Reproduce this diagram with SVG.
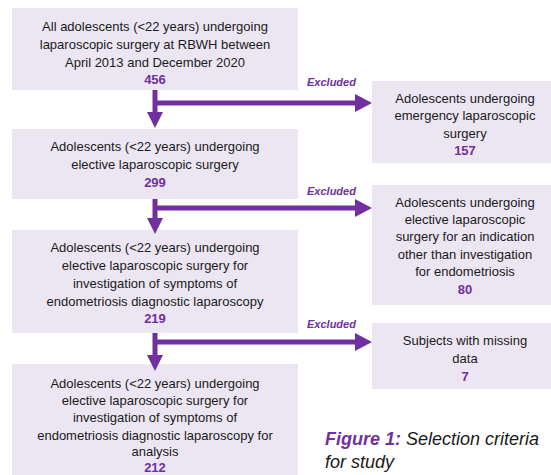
<svg xmlns="http://www.w3.org/2000/svg" width="551" height="475" viewBox="0 0 551 475">
<style>
  .box { fill: #ECE6F2; }
  .t { font-family: "Liberation Sans", Arial, sans-serif; font-size: 13px; fill: #1a1a1a; text-anchor: middle; }
  .n { font-family: "Liberation Sans", Arial, sans-serif; font-size: 13px; font-weight: bold; fill: #7030A0; text-anchor: middle; }
  .ex { font-family: "Liberation Sans", Arial, sans-serif; font-size: 11px; font-weight: bold; font-style: italic; fill: #7030A0; }
  .line { stroke: #7030A0; stroke-width: 5; fill: none; }
  .head { fill: #7030A0; }
  .cap { font-family: "Liberation Sans", Arial, sans-serif; font-size: 18px; font-style: italic; fill: #1a1a1a; }
</style>
<rect width="551" height="475" fill="#fff"/>

<g id="node-all">
  <rect class="box" x="12" y="8" width="286" height="82"/>
  <text class="t" x="155" y="31">All adolescents (&lt;22 years) undergoing</text>
  <text class="t" x="155" y="49">laparoscopic surgery at RBWH between</text>
  <text class="t" x="155" y="67">April 2013 and December 2020</text>
  <text class="n" x="155" y="84">456</text>
</g>

<g id="node-elective">
  <rect class="box" x="12" y="129" width="286" height="70"/>
  <text class="t" x="155" y="151">Adolescents (&lt;22 years) undergoing</text>
  <text class="t" x="155" y="169">elective laparoscopic surgery</text>
  <text class="n" x="155" y="187">299</text>
</g>

<g id="node-endo">
  <rect class="box" x="12" y="230" width="286" height="103"/>
  <text class="t" x="155" y="252">Adolescents (&lt;22 years) undergoing</text>
  <text class="t" x="155" y="270">elective laparoscopic surgery for</text>
  <text class="t" x="155" y="288">investigation of symptoms of</text>
  <text class="t" x="155" y="306">endometriosis diagnostic laparoscopy</text>
  <text class="n" x="155" y="323">219</text>
</g>

<g id="node-analysis">
  <rect class="box" x="12" y="364" width="286" height="115"/>
  <text class="t" x="155" y="388">Adolescents (&lt;22 years) undergoing</text>
  <text class="t" x="155" y="405">elective laparoscopic surgery for</text>
  <text class="t" x="155" y="422">investigation of symptoms of</text>
  <text class="t" x="155" y="440">endometriosis diagnostic laparoscopy for</text>
  <text class="t" x="155" y="456">analysis</text>
  <text class="n" x="155" y="472">212</text>
</g>

<g id="node-emergency">
  <rect class="box" x="372" y="81" width="185" height="82"/>
  <text class="t" x="465" y="103">Adolescents undergoing</text>
  <text class="t" x="465" y="120">emergency laparoscopic</text>
  <text class="t" x="465" y="138">surgery</text>
  <text class="n" x="465" y="155">157</text>
</g>

<g id="node-other">
  <rect class="box" x="372" y="185" width="185" height="120"/>
  <text class="t" x="465" y="207">Adolescents undergoing</text>
  <text class="t" x="465" y="224">elective laparoscopic</text>
  <text class="t" x="465" y="241">surgery for an indication</text>
  <text class="t" x="465" y="259">other than investigation</text>
  <text class="t" x="465" y="276">for endometriosis</text>
  <text class="n" x="465" y="294">80</text>
</g>

<g id="node-missing">
  <rect class="box" x="372" y="323" width="185" height="66"/>
  <text class="t" x="465" y="345">Subjects with missing</text>
  <text class="t" x="465" y="363">data</text>
  <text class="n" x="465" y="381">7</text>
</g>

<g id="connectors">
  <line class="line" x1="155" y1="90" x2="155" y2="113"/>
  <polygon class="head" points="147,112 163,112 155,128"/>
  <line class="line" x1="155" y1="103" x2="356" y2="103"/>
  <polygon class="head" points="355,94 355,112 372,103"/>
  <text class="ex" x="307" y="86">Excluded</text>
  <line class="line" x1="155" y1="199" x2="155" y2="219"/>
  <polygon class="head" points="147,218 163,218 155,234"/>
  <line class="line" x1="155" y1="208" x2="356" y2="208"/>
  <polygon class="head" points="355,199 355,217 372,208"/>
  <text class="ex" x="307" y="195">Excluded</text>
  <line class="line" x1="155" y1="333" x2="155" y2="356"/>
  <polygon class="head" points="147,355 163,355 155,371"/>
  <line class="line" x1="155" y1="342" x2="356" y2="342"/>
  <polygon class="head" points="355,333 355,351 372,342"/>
  <text class="ex" x="307" y="328">Excluded</text>
</g>

<g id="caption">
  <text class="cap" x="325" y="445"><tspan font-weight="bold" fill="#7030A0">Figure 1:</tspan> Selection criteria</text>
  <text class="cap" x="325" y="468">for study</text>
</g>
</svg>
